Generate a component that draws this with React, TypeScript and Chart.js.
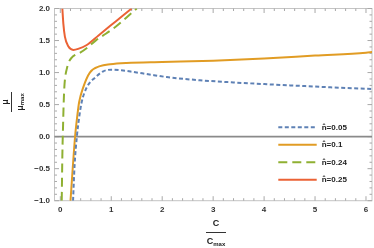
import React, { useEffect, useRef } from "react";
import { Chart, registerables } from "chart.js";

Chart.register(...registerables);

// n̂ = 0.05
const c005 = [0.25, 0.28, 0.325, 0.37, 0.42, 0.52, 0.68, 0.845, 1.0, 1.2, 1.43, 1.75, 2.09, 2.74, 3.4, 4.0, 4.64, 5.3, 6.12];
const mu005 = [-1, -0.45, 0, 0.3, 0.54, 0.77, 0.92, 1.02, 1.045, 1.035, 1.01, 0.97, 0.93, 0.88, 0.846, 0.82, 0.795, 0.77, 0.744];
// n̂ = 0.1
const c01 = [0.2, 0.245, 0.29, 0.33, 0.37, 0.45, 0.58, 0.78, 0.98, 1.3, 2, 3, 4, 5, 6, 6.12];
const mu01 = [-1, -0.48, 0, 0.3, 0.54, 0.77, 1.0, 1.1, 1.13, 1.15, 1.165, 1.185, 1.218, 1.265, 1.31, 1.32];
// n̂ = 0.24
const c024 = [0.028, 0.04, 0.055, 0.065, 0.08, 0.1, 0.125, 0.16, 0.22, 0.3, 0.39, 0.55, 0.71, 0.9, 1.11, 1.3, 1.5];
const mu024 = [-1, -0.3, 0.2, 0.5, 0.78, 0.95, 1.05, 1.15, 1.23, 1.28, 1.31, 1.4, 1.51, 1.61, 1.73, 1.86, 2.0];
// n̂ = 0.25
const c025 = [0.04, 0.06, 0.09, 0.16, 0.255, 0.35, 0.52, 0.75, 0.98, 1.2, 1.4];
const mu025 = [2.0, 1.76, 1.56, 1.405, 1.354, 1.37, 1.43, 1.58, 1.73, 1.87, 2.0];

const seriesLabels = ["n\u0302=0.05", "n\u0302=0.1", "n\u0302=0.24", "n\u0302=0.25"];
const xTicks = [0, 1, 2, 3, 4, 5, 6];
const yTicks = [-1, -0.5, 0, 0.5, 1, 1.5, 2];

const X_MIN = -0.114;
const X_MAX = 6.118;
const Y_MIN = -1;
const Y_MAX = 2;

const FONT = "'Liberation Sans', Arial, sans-serif";

const pts = (xs: number[], ys: number[]) => xs.map((x, i) => ({ x, y: ys[i] }));

const framePlugin = {
  id: "frame",
  beforeDatasetsDraw(chart: any) {
    const { ctx, chartArea } = chart;
    const { left, right, top, bottom } = chartArea;
    const xs = chart.scales.x;
    const ys = chart.scales.y;
    ctx.save();
    // frame
    ctx.strokeStyle = "#c4c4c4";
    ctx.lineWidth = 1;
    ctx.strokeRect(left, top, right - left, bottom - top);
    // ticks
    ctx.strokeStyle = "#a8a8a8";
    ctx.beginPath();
    for (let i = 0; i <= 7 * 5; i++) {
      const v = i / 5;
      if (v < X_MIN || v > X_MAX) continue;
      const px = xs.getPixelForValue(v);
      const len = i % 5 === 0 ? 4.5 : 2.5;
      ctx.moveTo(px, bottom);
      ctx.lineTo(px, bottom - len);
      ctx.moveTo(px, top);
      ctx.lineTo(px, top + len);
    }
    for (let i = -10; i <= 20; i++) {
      const v = i / 10;
      const py = ys.getPixelForValue(v);
      const len = i % 5 === 0 ? 4.5 : 2.5;
      ctx.moveTo(left, py);
      ctx.lineTo(left + len, py);
      ctx.moveTo(right, py);
      ctx.lineTo(right - len, py);
    }
    ctx.stroke();
    // zero line
    const y0 = ys.getPixelForValue(0);
    ctx.strokeStyle = "#8a8a8a";
    ctx.lineWidth = 1.6;
    ctx.beginPath();
    ctx.moveTo(left, y0);
    ctx.lineTo(right, y0);
    ctx.stroke();
    ctx.restore();
  },
  afterDraw(chart: any) {
    const { ctx } = chart;
    ctx.save();
    // legend
    const rowY = [127.3, 144.7, 162.3, 179.7];
    chart.data.datasets.forEach((ds: any, i: number) => {
      const y = rowY[i];
      ctx.strokeStyle = ds.borderColor;
      ctx.lineWidth = ds.borderWidth;
      ctx.setLineDash(ds.borderDash || []);
      ctx.beginPath();
      ctx.moveTo(278.3, y);
      ctx.lineTo(316.7, y);
      ctx.stroke();
      ctx.setLineDash([]);
      ctx.fillStyle = "#222";
      ctx.font = `bold 8px ${FONT}`;
      ctx.textAlign = "left";
      ctx.textBaseline = "middle";
      ctx.fillText(ds.label, 321.7, y + 0.5);
    });

    // x title: C / C_max
    const cx = 216;
    ctx.fillStyle = "#222";
    ctx.textAlign = "center";
    ctx.textBaseline = "middle";
    ctx.font = `bold 9px ${FONT}`;
    ctx.fillText("C", cx, 224);
    ctx.strokeStyle = "#333";
    ctx.lineWidth = 1;
    ctx.beginPath();
    ctx.moveTo(cx - 10, 232.5);
    ctx.lineTo(cx + 10, 232.5);
    ctx.stroke();
    ctx.font = `bold 9px ${FONT}`;
    const wC = ctx.measureText("C").width;
    ctx.font = `bold 6px ${FONT}`;
    const wMax = ctx.measureText("max").width;
    const startX = cx - (wC + wMax) / 2;
    ctx.textAlign = "left";
    ctx.font = `bold 9px ${FONT}`;
    ctx.fillText("C", startX, 242);
    ctx.font = `bold 6px ${FONT}`;
    ctx.fillText("max", startX + wC, 244);

    // y title: μ / μ_max rotated
    ctx.translate(11.5, 102);
    ctx.rotate(-Math.PI / 2);
    ctx.textAlign = "center";
    ctx.font = `bold 9px ${FONT}`;
    ctx.fillText("\u03bc", 0, -6);
    ctx.beginPath();
    ctx.moveTo(-10, 0);
    ctx.lineTo(10, 0);
    ctx.stroke();
    const wMu = ctx.measureText("\u03bc").width;
    ctx.font = `bold 6px ${FONT}`;
    const wM2 = ctx.measureText("max").width;
    const sx = -(wMu + wM2) / 2;
    ctx.textAlign = "left";
    ctx.font = `bold 9px ${FONT}`;
    ctx.fillText("\u03bc", sx, 9);
    ctx.font = `bold 6px ${FONT}`;
    ctx.fillText("max", sx + wMu, 11);
    ctx.restore();
  },
};

export default function App() {
  const ref = useRef<HTMLCanvasElement | null>(null);
  useEffect(() => {
    document.body.style.margin = "0";
    const canvas = ref.current!;
    const line = (label: string, data: any, color: string, dash: number[]) => ({
      label,
      data,
      borderColor: color,
      backgroundColor: color,
      borderWidth: 2,
      borderDash: dash,
      pointRadius: 0,
      fill: false,
      cubicInterpolationMode: "monotone" as const,
    });
    const chart = new Chart(canvas, {
      type: "line",
      data: {
        datasets: [
          line(seriesLabels[0], pts(c005, mu005), "#5E81B5", [4, 2.5]),
          line(seriesLabels[1], pts(c01, mu01), "#E19C24", []),
          line(seriesLabels[2], pts(c024, mu024), "#8FB032", [9, 5]),
          line(seriesLabels[3], pts(c025, mu025), "#EB6235", []),
        ],
      },
      options: {
        animation: false,
        responsive: false,
        maintainAspectRatio: false,
        layout: { padding: { top: 4, right: 2, left: 0, bottom: 0 } },
        plugins: { legend: { display: false }, tooltip: { enabled: false } },
        scales: {
          x: {
            type: "linear",
            min: X_MIN,
            max: X_MAX,
            grid: { display: false, drawTicks: false },
            border: { display: false },
            ticks: {
              autoSkip: false,
              maxRotation: 0,
              padding: 5,
              color: "#333",
              font: { family: FONT, size: 8, weight: "bold", lineHeight: 1 },
              callback: (v: any) => String(v),
            },
            afterBuildTicks: (s: any) => {
              s.ticks = xTicks.map((v) => ({ value: v }));
            },
            afterFit: (s: any) => {
              s.height = 47.3;
            },
          },
          y: {
            type: "linear",
            min: Y_MIN,
            max: Y_MAX,
            grid: { display: false, drawTicks: false },
            border: { display: false },
            ticks: {
              autoSkip: false,
              padding: 4.5,
              color: "#333",
              font: { family: FONT, size: 8, weight: "bold", lineHeight: 1 },
              callback: (v: any) => (v < 0 ? "\u2212" : "") + Math.abs(v).toFixed(1),
            },
            afterBuildTicks: (s: any) => {
              s.ticks = yTicks.map((v) => ({ value: v }));
            },
            afterFit: (s: any) => {
              s.width = 54.5;
            },
          },
        },
      },
      plugins: [framePlugin],
    });
    return () => chart.destroy();
  }, []);
  return (
    <div style={{ width: 374, height: 248 }}>
      <canvas ref={ref} width={374} height={248} />
    </div>
  );
}
